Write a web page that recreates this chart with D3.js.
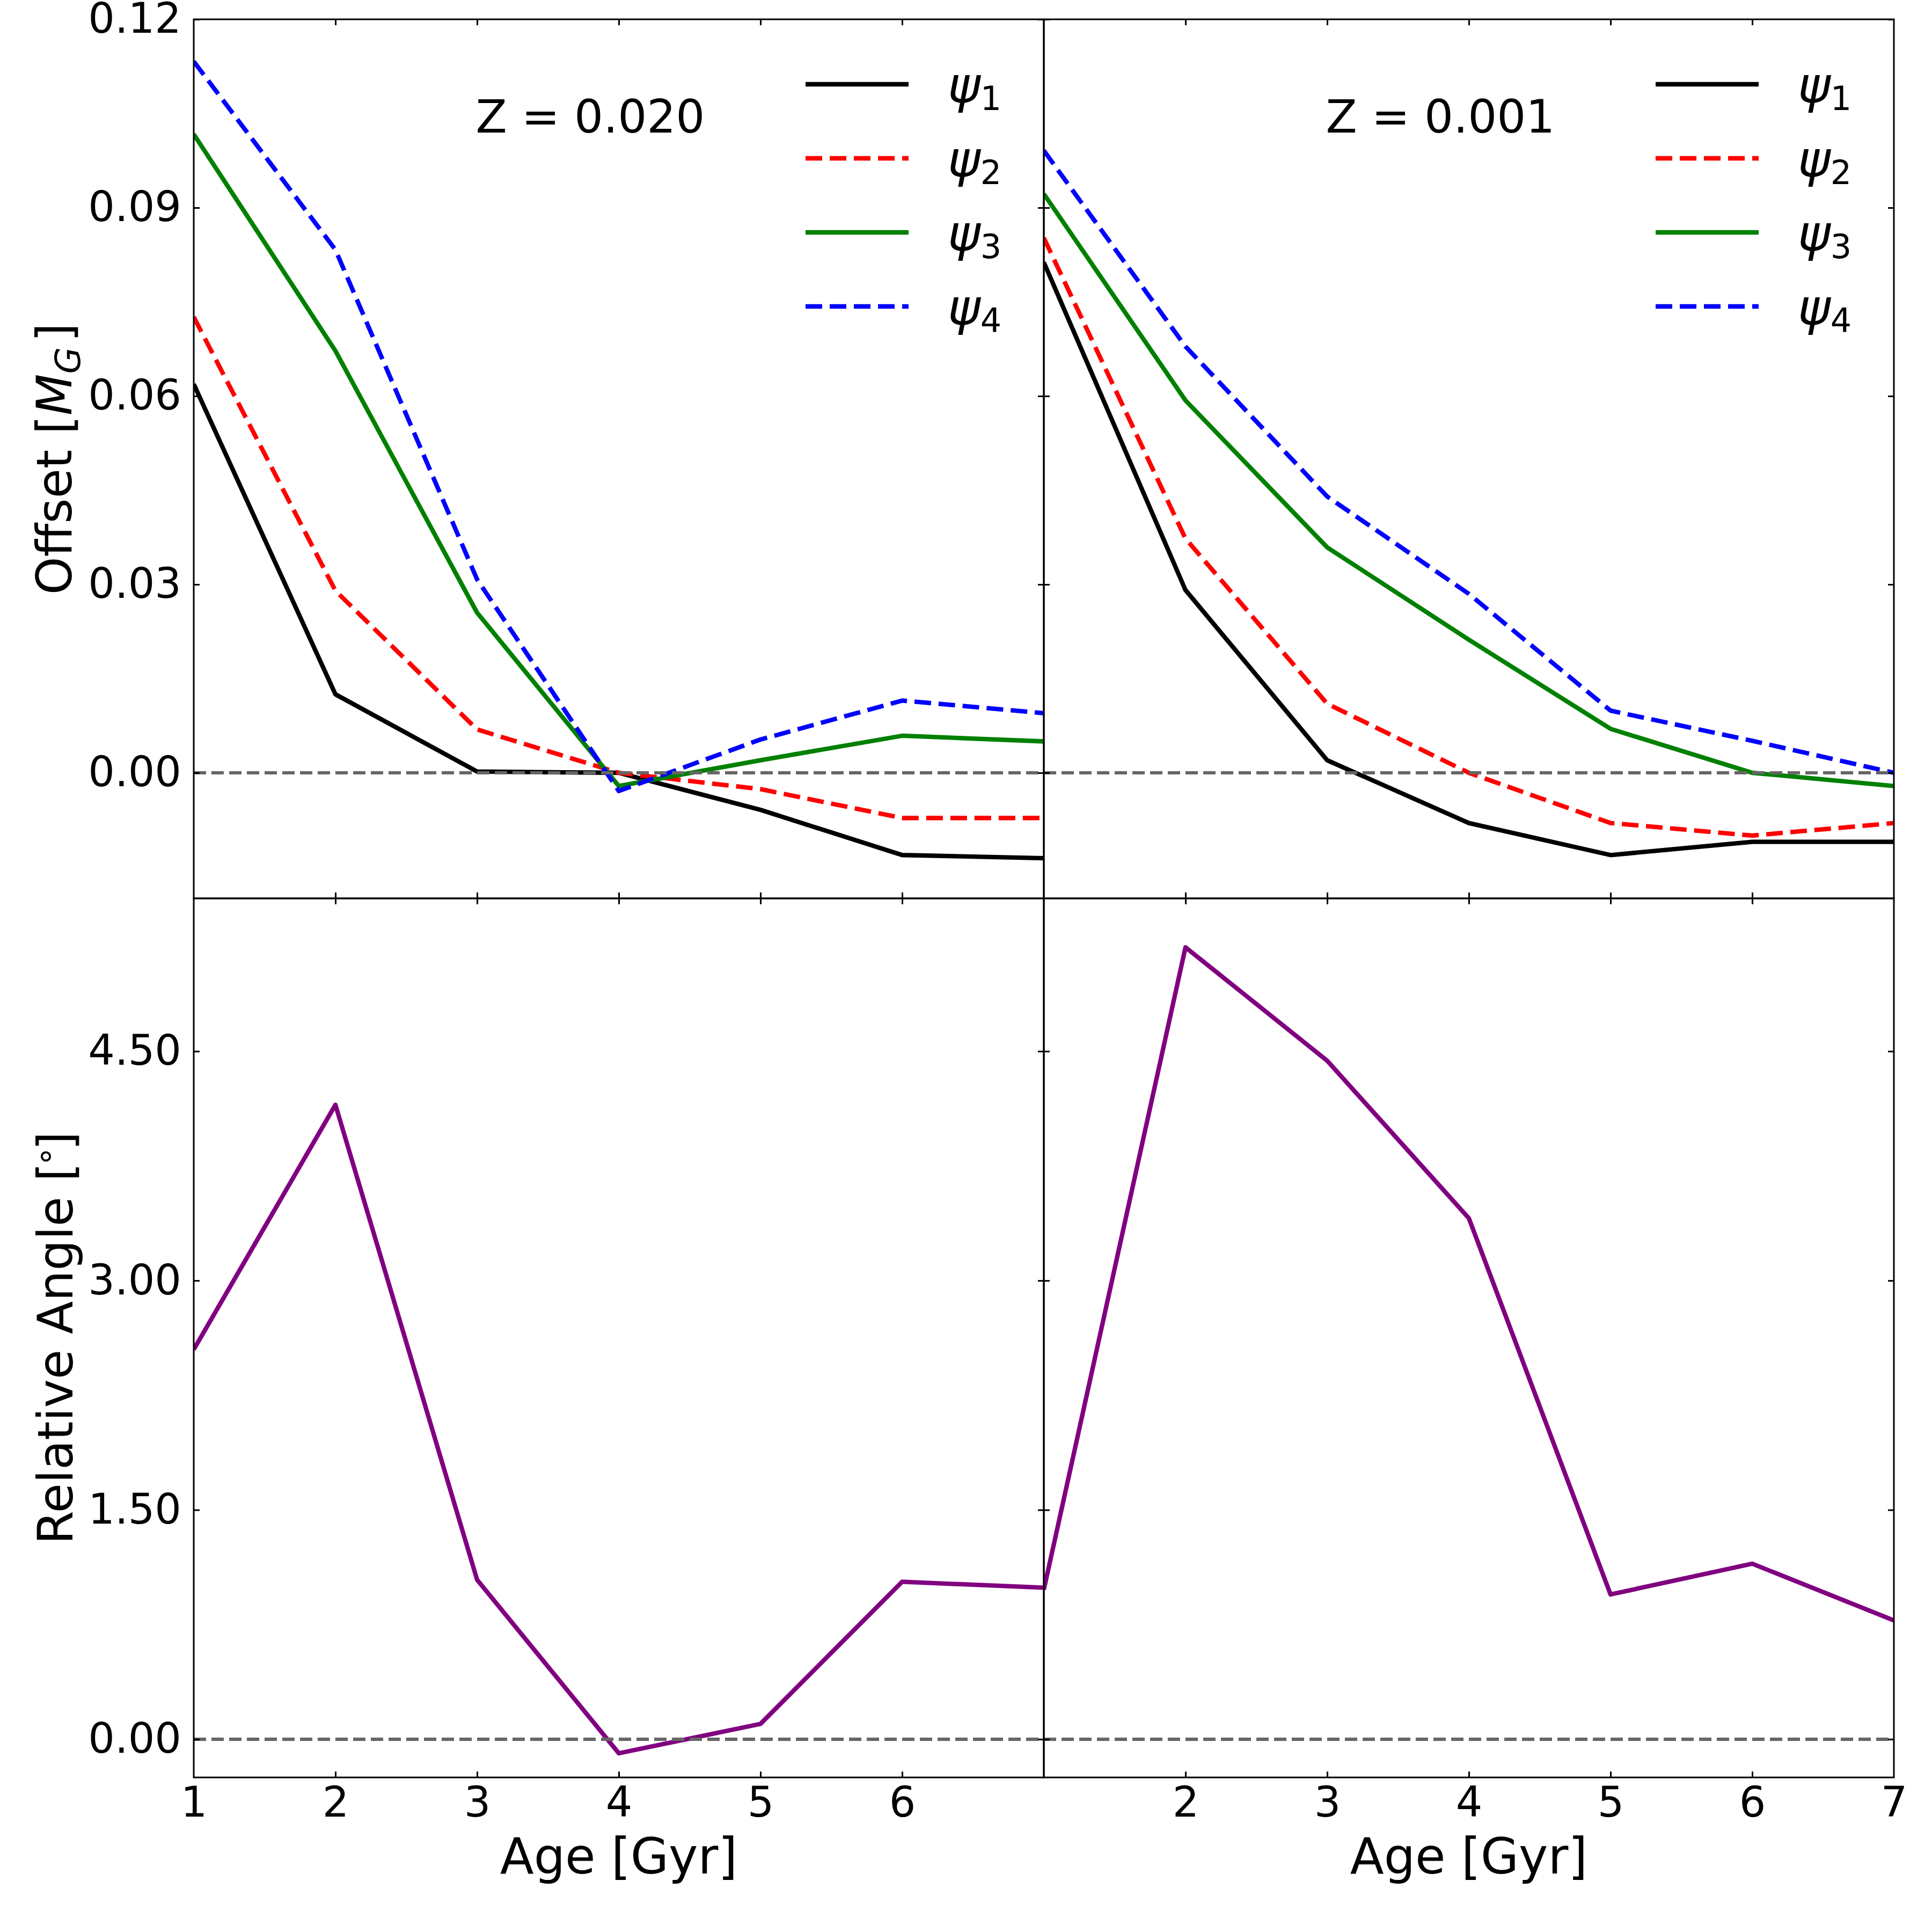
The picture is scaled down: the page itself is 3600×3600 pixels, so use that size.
<!DOCTYPE html>
<html>
<head>
<meta charset="utf-8">
<script src="https://cdn.jsdelivr.net/npm/d3@7"></script>
<style>
  body { margin: 0; background: #fff; }
  text { font-family: "DejaVu Sans", sans-serif; fill: #000; }
</style>
</head>
<body>
<svg id="chart" width="3600" height="3600"></svg>
<script>
// ages on the x axis (Gyr)
const ages = [1, 2, 3, 4, 5, 6, 7];

// offset in M_G, Z = 0.020
const z020Psi1 = [0.0619, 0.0125, 0.0002, 0.0, -0.0059, -0.0131, -0.0136];
const z020Psi2 = [0.0726, 0.0290, 0.0069, 0.0, -0.0026, -0.0072, -0.0072];
const z020Psi3 = [0.1017, 0.0672, 0.0255, -0.0021, 0.0020, 0.0059, 0.0050];
const z020Psi4 = [0.1133, 0.0833, 0.0308, -0.0029, 0.0053, 0.0115, 0.0095];

// offset in M_G, Z = 0.001
const z001Psi1 = [0.0813, 0.0291, 0.0020, -0.0080, -0.0131, -0.0110, -0.0110];
const z001Psi2 = [0.0852, 0.0373, 0.0110, 0.0, -0.0080, -0.0100, -0.0080];
const z001Psi3 = [0.0922, 0.0593, 0.0359, 0.0212, 0.0070, 0.0, -0.0021];
const z001Psi4 = [0.0991, 0.0679, 0.0440, 0.0285, 0.0099, 0.0051, 0.0];

// relative angle in degrees
const angleZ020 = [2.549, 4.150, 1.043, -0.092, 0.100, 1.030, 0.991];
const angleZ001 = [0.978, 5.180, 4.438, 3.408, 0.947, 1.148, 0.777];

const metallicities = ['Z = 0.020', 'Z = 0.001'];
const seriesNames = ['1', '2', '3', '4'];
const offsetTicks = [0, 0.03, 0.06, 0.09, 0.12];
const angleTicks = [0, 1.5, 3, 4.5];

const styles = [
    { color: '#000000', dash: null },
    { color: '#ff0000', dash: '31,14' },
    { color: '#008000', dash: null },
    { color: '#0000ff', dash: '31,14' },
];

const offsetSets = [
    [z020Psi1, z020Psi2, z020Psi3, z020Psi4],
    [z001Psi1, z001Psi2, z001Psi3, z001Psi4],
];
const angleSets = [angleZ020, angleZ001];

// layout
const plotLeft = 361;
const plotTop = 36;
const panelW = 1584;
const panelH = 1638;
const tickLen = 11;
const lineW = 8.3;

const svg = d3.select('#chart');

const xScales = [0, 1].map(c => d3.scaleLinear()
    .domain([1, 7])
    .range([plotLeft + c * panelW, plotLeft + (c + 1) * panelW]));

const yTop = d3.scaleLinear().domain([-0.02, 0.12]).range([plotTop + panelH, plotTop]);
const yBottom = d3.scaleLinear().domain([-0.25, 5.5]).range([plotTop + 2 * panelH, plotTop + panelH]);

function styleAxis(g) {
    g.select('.domain').remove();
    g.selectAll('.tick line').attr('stroke', '#000').attr('stroke-width', 3);
    g.selectAll('.tick text')
        .style('font-family', '"DejaVu Sans", sans-serif')
        .style('font-size', '78px')
        .attr('fill', '#000');
}

function drawPanel(col, row) {
    const x = xScales[col];
    const y = row === 0 ? yTop : yBottom;
    const [x0, x1] = x.range();
    const [y1, y0] = y.range();
    const g = svg.append('g');

    const clipId = `clip-${col}-${row}`;
    g.append('clipPath').attr('id', clipId)
        .append('rect').attr('x', x0).attr('y', y0).attr('width', x1 - x0).attr('height', y1 - y0);
    const plot = g.append('g').attr('clip-path', `url(#${clipId})`);

    const line = d3.line().x((d, i) => x(ages[i])).y(d => y(d));

    if (row === 0) {
        offsetSets[col].forEach((vals, i) => {
            plot.append('path')
                .datum(vals)
                .attr('d', line)
                .attr('fill', 'none')
                .attr('stroke', styles[i].color)
                .attr('stroke-width', lineW)
                .attr('stroke-linejoin', 'round')
                .attr('stroke-dasharray', styles[i].dash);
        });
    } else {
        plot.append('path')
            .datum(angleSets[col])
            .attr('d', line)
            .attr('fill', 'none')
            .attr('stroke', '#800080')
            .attr('stroke-width', lineW)
            .attr('stroke-linejoin', 'round');
    }

    // zero reference line
    plot.append('line')
        .attr('x1', x0).attr('x2', x1)
        .attr('y1', y(0)).attr('y2', y(0))
        .attr('stroke', '#666666')
        .attr('stroke-width', 6.2)
        .attr('stroke-dasharray', '23,10');

    // ticks, all inward
    const xTicks = [2, 3, 4, 5, 6];
    const yTicks = row === 0 ? offsetTicks : angleTicks;
    const xLabelTicks = col === 0 ? [1, 2, 3, 4, 5, 6] : [2, 3, 4, 5, 6, 7];

    g.append('g').attr('transform', `translate(0,${y1})`)
        .call(d3.axisBottom(x).tickValues(row === 1 ? xLabelTicks : xTicks)
            .tickSizeInner(-tickLen).tickSizeOuter(0).tickPadding(18)
            .tickFormat(row === 1 ? d3.format('d') : () => ''))
        .call(styleAxis)
        .call(a => a.selectAll('.tick line').filter(d => d === 1 || d === 7).remove());
    g.append('g').attr('transform', `translate(0,${y0})`)
        .call(d3.axisTop(x).tickValues(xTicks).tickSizeInner(-tickLen).tickSizeOuter(0).tickFormat(() => ''))
        .call(styleAxis);
    g.append('g').attr('transform', `translate(${x0},0)`)
        .call(d3.axisLeft(y).tickValues(yTicks).tickSizeInner(-tickLen).tickSizeOuter(0).tickPadding(23)
            .tickFormat(col === 0 ? d3.format('.2f') : () => ''))
        .call(styleAxis);
    g.append('g').attr('transform', `translate(${x1},0)`)
        .call(d3.axisRight(y).tickValues(yTicks).tickSizeInner(-tickLen).tickSizeOuter(0).tickFormat(() => ''))
        .call(styleAxis);

    // frame
    g.append('rect')
        .attr('x', x0).attr('y', y0).attr('width', x1 - x0).attr('height', y1 - y0)
        .attr('fill', 'none').attr('stroke', '#000').attr('stroke-width', 3);

    if (row === 0) {
        g.append('text')
            .attr('x', x0 + 739).attr('y', 247)
            .attr('text-anchor', 'middle')
            .style('font-size', '85px')
            .text(metallicities[col]);

        // legend
        const leg = g.append('g');
        seriesNames.forEach((name, i) => {
            const ly = 157 + i * 138;
            leg.append('line')
                .attr('x1', x1 - 444).attr('x2', x1 - 252)
                .attr('y1', ly).attr('y2', ly)
                .attr('stroke', styles[i].color)
                .attr('stroke-width', lineW)
                .attr('stroke-dasharray', styles[i].dash);
            const t = leg.append('text')
                .attr('x', x1 - 179).attr('y', ly + 34)
                .style('font-size', '92px');
            t.append('tspan').style('font-style', 'italic').text('ψ');
            t.append('tspan').attr('dy', 14).style('font-size', '62px').text(name);
        });
    }
}

[0, 1].forEach(row => [0, 1].forEach(col => drawPanel(col, row)));

// axis titles
[0, 1].forEach(col => {
    svg.append('text')
        .attr('x', plotLeft + col * panelW + panelW / 2).attr('y', 3491)
        .attr('text-anchor', 'middle')
        .style('font-size', '92px')
        .text('Age [Gyr]');
});

const yl1 = svg.append('text')
    .attr('transform', `translate(133,${plotTop + panelH / 2}) rotate(-90)`)
    .attr('text-anchor', 'middle')
    .style('font-size', '90px');
yl1.append('tspan').text('Offset [');
yl1.append('tspan').style('font-style', 'italic').text('M');
yl1.append('tspan').attr('dy', 16).style('font-style', 'italic').style('font-size', '64px').text('G');
yl1.append('tspan').attr('dy', -16).attr('dx', 10).text(']');

const yl2 = svg.append('text')
    .attr('transform', `translate(135,${plotTop + panelH * 1.5}) rotate(-90)`)
    .attr('text-anchor', 'middle')
    .style('font-size', '90px');
yl2.append('tspan').text('Relative Angle [');
yl2.append('tspan').attr('dy', -30).attr('dx', -8).style('font-size', '62px').text('∘');
yl2.append('tspan').attr('dy', 30).attr('dx', -8).text(']');
</script>
</body>
</html>
